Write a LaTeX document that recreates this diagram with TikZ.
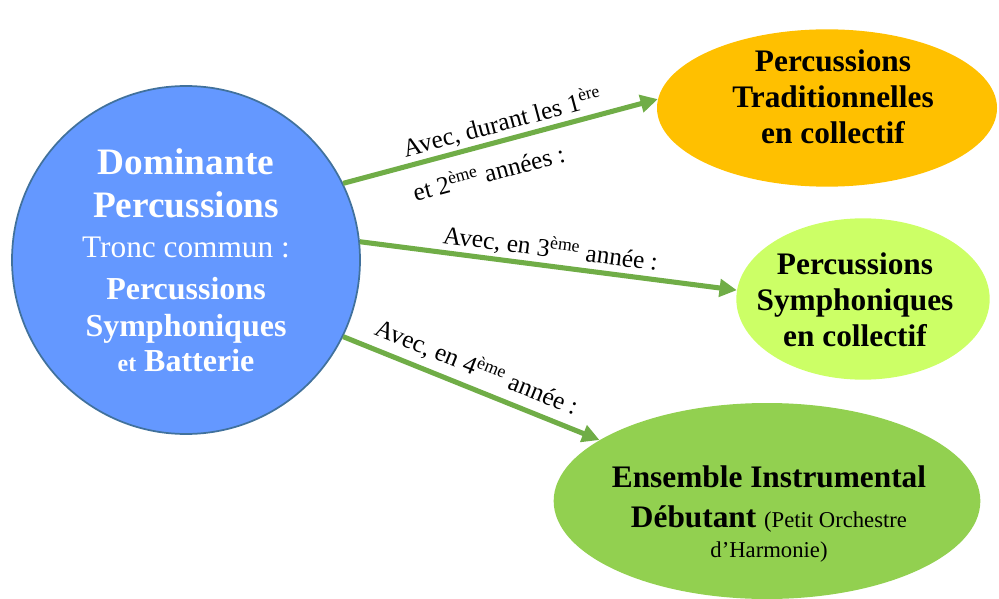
\documentclass[tikz,border=0pt]{standalone}
\usepackage{fontspec}
\setmainfont{Liberation Serif}
\usetikzlibrary{shapes.geometric,arrows.meta}

\definecolor{bluefill}{RGB}{100,152,255}
\definecolor{blueline}{RGB}{65,113,156}
\definecolor{gold}{RGB}{255,192,0}
\definecolor{lime}{RGB}{204,255,102}
\definecolor{leaf}{RGB}{146,208,80}
\definecolor{arrowgreen}{RGB}{112,173,71}

\newcommand{\fs}[2]{\fontsize{#1}{#2}\selectfont}

\begin{document}
\begin{tikzpicture}[x=0.75pt,y=-0.75pt,
	bubble/.style={ellipse, inner sep=0pt},
	link/.style={arrowgreen, line width=3.8pt, -{Triangle[length=13pt,width=13pt]}},
	lab/.style={text=black, font=\fs{19}{21}, sloped, inner sep=2pt}]
			\useasboundingbox (0,0) rectangle (999,599);

			% Main circle
			\node[circle, fill=bluefill, draw=blueline, line width=1.3pt, minimum size=261pt,
				inner sep=0pt, text=white, align=center, font=\fs{24}{26}] (dom) at (186,260)
				{\fs{28}{26}\bfseries Dominante\\[6pt]
				 \fs{28}{26}\bfseries Percussions\\[4pt]
				 \fs{23.5}{26}\mdseries Tronc commun :\\[5.5pt]
				 \fs{24}{26}\bfseries Percussions\\[2pt]
				 \fs{24}{26}\bfseries Symphoniques\\
				 \fs{24}{26}\bfseries{\fs{18}{26}et} Batterie};

			% Ellipses
			\node[bubble, fill=gold, minimum width=255pt, minimum height=118pt] (trad) at (827,108) {};
			\node[bubble, fill=lime, minimum width=190pt, minimum height=121pt] (sym) at (863,299) {};
			\node[bubble, fill=leaf, minimum width=320pt, minimum height=147pt] (ens) at (767,501) {};

			% Texts of the ellipses
			\node[align=center, font=\fs{23.5}{27}\bfseries] (tradtxt) at (833,97)
				{Percussions\\Traditionnelles\\en collectif};
			\node[align=center, font=\fs{23.5}{27}\bfseries] (symtxt) at (855,300)
				{Percussions\\Symphoniques\\en collectif};
			\node[align=center, font=\fs{17}{23}] (enstxt) at (769,514)
				{\fs{23.5}{23}\bfseries Ensemble Instrumental\\[7pt]
				 \fs{23.5}{23}\bfseries Débutant {\fs{17}{23}\mdseries (Petit Orchestre}\\
				 \fs{17}{23}d’Harmonie)};

			% Arrows
			\draw[link] (dom.26) --
				node[lab, above, pos=0.52] {Avec, durant les 1\textsuperscript{ère}}
				node[lab, below=8pt, pos=0.44] {et 2\textsuperscript{ème} années :} (trad.177);
			\draw[link] (dom.6) --
				node[lab, above, pos=0.5] {Avec, en 3\textsuperscript{ème} année :} (sym.176);
			\draw[link] (dom.-26) --
				node[lab, above=3pt, pos=0.49] {Avec, en 4\textsuperscript{ème} année :} (ens.160);
		\end{tikzpicture}
\end{document}
